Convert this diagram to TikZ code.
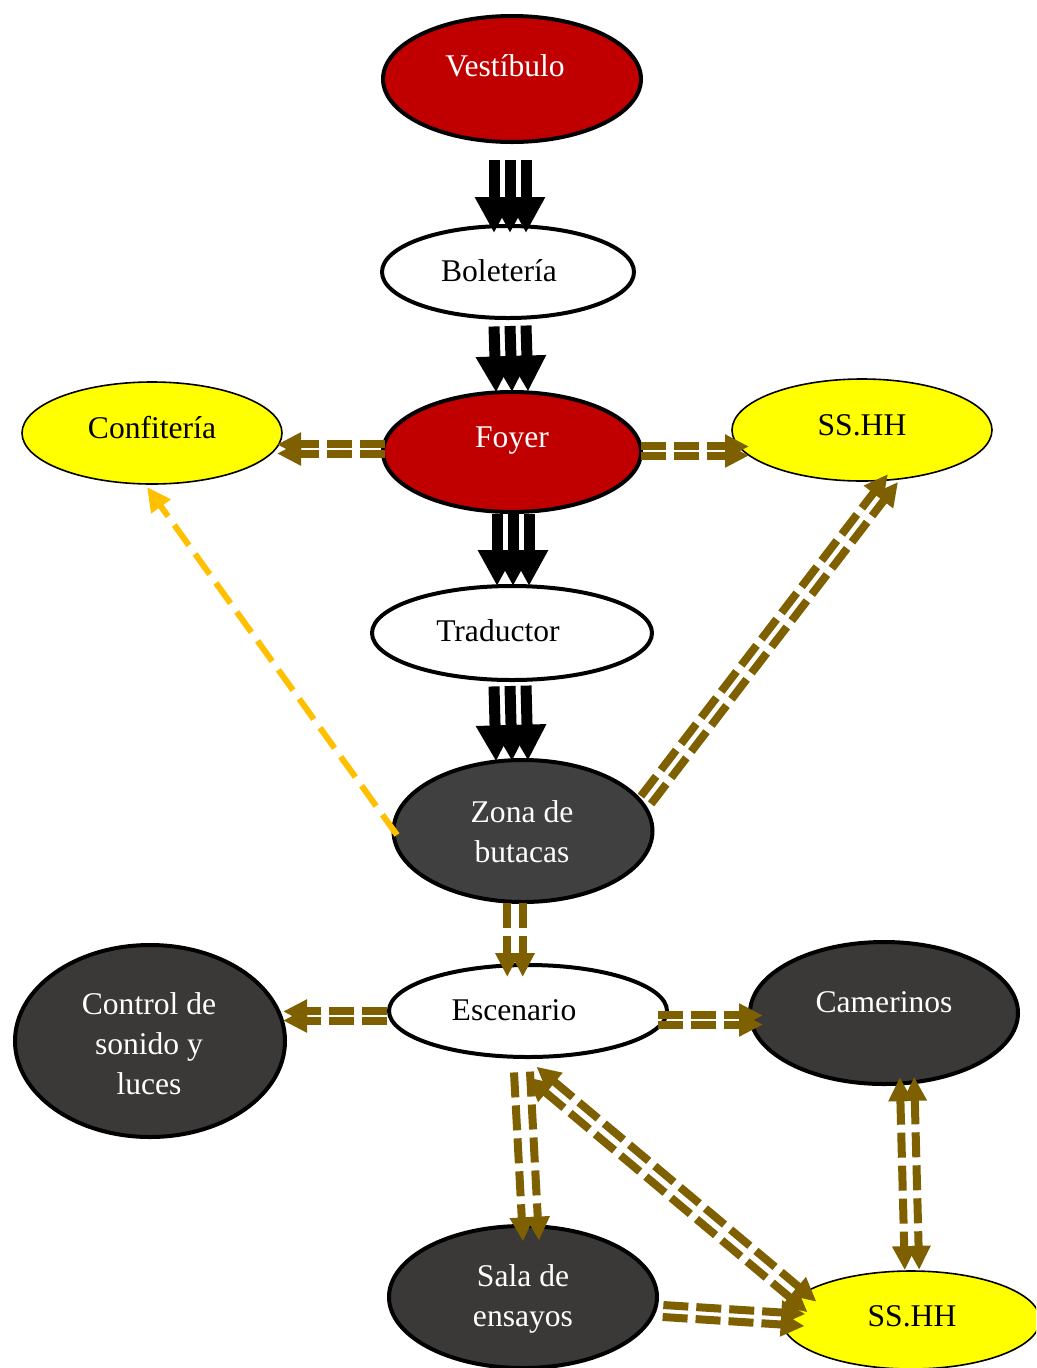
\documentclass[tikz,border=0pt]{standalone}
\usepackage{fontspec}
\setmainfont{Liberation Serif}
\usetikzlibrary{shapes.geometric,arrows.meta,calc}
\definecolor{redF}{HTML}{C00000}
\definecolor{darkF}{HTML}{3B3838}
\definecolor{zonaF}{HTML}{404040}
\definecolor{yelF}{HTML}{FFFF00}
\definecolor{brownA}{HTML}{7F6000}
\definecolor{goldA}{HTML}{FFC000}
\newdimen\pxu \pxu=0.75pt
\tikzset{
  ell/.style={ellipse, draw=black, line width=3pt, inner sep=0pt},
  yell/.style={ellipse, draw=black, line width=1.2pt, inner sep=0pt, fill=yelF},
  txt/.style={font=\fontsize{23.7}{30}\selectfont, align=center, inner sep=0pt},
  blk/.style={draw=black, line width=8.25pt, -{Triangle[length=27pt,width=27pt]}},
  brn/.style={draw=brownA, line width=6pt, dash pattern=on 18.75pt off 6pt, -{Triangle[length=18pt,width=17pt]}},
  brnb/.style={draw=brownA, line width=6pt, dash pattern=on 18.75pt off 6pt, {Triangle[length=18pt,width=17pt]}-{Triangle[length=18pt,width=17pt]}},
  gld/.style={draw=goldA, line width=4.5pt, dash pattern=on 18.75pt off 8pt, -{Triangle[length=18pt,width=17pt]}}
}
% #1 style, #2 start, #3 end, #4 half separation
\newcommand\dblarrow[4]{%
  \draw[#1] ($(#2)!#4!90:(#3)$) -- ($(#3)!#4!-90:(#2)$);
  \draw[#1] ($(#2)!#4!-90:(#3)$) -- ($(#3)!#4!90:(#2)$);
}
\newcommand\triplearrow[2]{%
  \draw[blk] (#1) -- (#2);
  \draw[blk] ($(#1)!12pt!90:(#2)$) -- ($(#2)!12pt!-90:(#1)$);
  \draw[blk] ($(#1)!12pt!-90:(#2)$) -- ($(#2)!12pt!90:(#1)$);
}
\begin{document}
\begin{tikzpicture}[x=0.75pt,y=-0.75pt]
\clip (0,0) rectangle (1036,1368);
\fill[white] (0,0) rectangle (1036,1368);

% ellipses
\node[ell, fill=redF, minimum width=258*\pxu, minimum height=126*\pxu] (vest) at (512,79) {};
\node[ell, fill=white, minimum width=252*\pxu, minimum height=92*\pxu] (bol) at (508,272) {};
\node[ell, fill=redF, minimum width=258*\pxu, minimum height=120*\pxu] (foyer) at (512,452) {};
\node[yell, minimum width=260*\pxu, minimum height=102*\pxu] (confit) at (152,433) {};
\node[yell, minimum width=260*\pxu, minimum height=102*\pxu] (ssa) at (862,430) {};
\node[ell, fill=white, minimum width=280*\pxu, minimum height=94*\pxu] (trad) at (512,633) {};
\node[ell, fill=zonaF, minimum width=259*\pxu, minimum height=142*\pxu] (zona) at (523,831) {};
\node[ell, fill=white, minimum width=278*\pxu, minimum height=92*\pxu] (esc) at (528,1011) {};
\node[ell, fill=darkF, minimum width=270*\pxu, minimum height=192*\pxu] (ctrl) at (150,1041) {};
\node[ell, fill=darkF, minimum width=268*\pxu, minimum height=142*\pxu] (cam) at (884,1013) {};
\node[ell, fill=darkF, minimum width=268*\pxu, minimum height=142*\pxu] (sala) at (523,1297) {};
\node[yell, minimum width=258*\pxu, minimum height=98*\pxu] (ssb) at (911,1320) {};

% texts
\node[txt, text=white] (vestT) at (505,66) {Vestíbulo};
\node[txt] (bolT) at (499,271) {Boletería};
\node[txt, text=white] (foyerT) at (512,441) {Foyer};
\node[txt] (confitT) at (152,428) {Confitería};
\node[txt] (ssaT) at (862,425) {SS.HH};
\node[txt] (tradT) at (498,631) {Traductor};
\node[txt, text=white] (zonaT) at (522,832) {Zona de\\butacas};
\node[txt] (escT) at (514,1010) {Escenario};
\node[txt, text=white] (ctrlT) at (149,1044) {Control de\\sonido y\\luces};
\node[txt, text=white] (camT) at (884,1002) {Camerinos};
\node[txt, text=white] (salaT) at (523,1299) {Sala de\\ensayos};
\node[txt] (ssbT) at (912,1316) {SS.HH};

% connector end points
\coordinate (vb1) at ($(vest.center)+(-2,81)$);
\coordinate (vb2) at ($(bol.center)+(2,-39)$);
\coordinate (bf1) at ($(bol.center)+(2,54)$);
\coordinate (bf2) at ($(foyer.center)+(0,-60)$);
\coordinate (ft1) at ($(foyer.center)+(1,62)$);
\coordinate (ft2) at ($(trad.center)+(1,-47)$);
\coordinate (tz1) at ($(trad.center)+(-2,53)$);
\coordinate (tz2) at ($(zona.center)+(-11,-70)$);

\coordinate (fc1) at ($(foyer.center)+(-127,-3)$);
\coordinate (fc2) at ($(confit.center)+(125,16)$);
\coordinate (fs1) at ($(foyer.center)+(129,-1)$);
\coordinate (fs2) at ($(ssa.center)+(-113,21)$);
\coordinate (zs1) at ($(zona.center)+(123,-31)$);
\coordinate (zs2) at ($(ssa.center)+(31,48)$);
\coordinate (ze1) at ($(zona.center)+(-8,72)$);
\coordinate (ze2) at ($(esc.center)+(-13,-34)$);
\coordinate (ec1) at ($(esc.center)+(-141,5)$);
\coordinate (ec2) at ($(ctrl.center)+(133,-25)$);
\coordinate (em1) at ($(esc.center)+(130,9)$);
\coordinate (em2) at ($(cam.center)+(-121,7)$);
\coordinate (es1) at ($(esc.center)+(-6,61)$);
\coordinate (es2) at ($(sala.center)+(8,-56)$);
\coordinate (eb1) at ($(esc.center)+(4,61)$);
\coordinate (eb2) at ($(ssb.center)+(-99,-13)$);
\coordinate (sb1) at ($(sala.center)+(140,14)$);
\coordinate (sb2) at ($(ssb.center)+(-106,0)$);
\coordinate (cb1) at ($(cam.center)+(23,64)$);
\coordinate (cb2) at ($(ssb.center)+(1,-50)$);
\coordinate (zc1) at ($(zona.center)+(-126,4)$);
\coordinate (zc2) at ($(confit.center)+(-5,54)$);

% black triple arrows
\triplearrow{vb1}{vb2}
\triplearrow{bf1}{bf2}
\triplearrow{ft1}{ft2}
\triplearrow{tz1}{tz2}

% brown double dashed arrows
\dblarrow{brn}{fc1}{fc2}{3.4pt}
\dblarrow{brn}{fs1}{fs2}{3.4pt}
\dblarrow{brn}{zs1}{zs2}{4.8pt}
\dblarrow{brn}{ze1}{ze2}{5.8pt}
\dblarrow{brn}{ec1}{ec2}{3.4pt}
\dblarrow{brn}{em1}{em2}{3.4pt}
\dblarrow{brn}{es1}{es2}{6pt}
\dblarrow{brnb}{eb1}{eb2}{5.2pt}
\dblarrow{brn}{sb1}{sb2}{4.5pt}
\dblarrow{brnb}{cb1}{cb2}{5.4pt}

% gold dashed arrow
\draw[gld] (zc1) -- (zc2);
\end{tikzpicture}
\end{document}
